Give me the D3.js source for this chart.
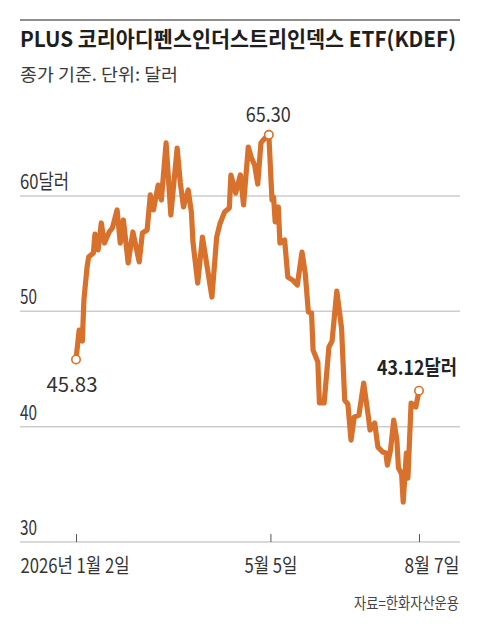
<!DOCTYPE html>
<html><head><meta charset="utf-8">
<script src="https://cdn.jsdelivr.net/npm/d3@7"></script>
<style>
html,body{margin:0;padding:0;background:#fff;}
svg{display:block;}
text{font-family:"Noto Sans CJK KR","Noto Sans",sans-serif;}
</style></head>
<body>
<svg id="c" width="480" height="630"></svg>
<script>
// ---- data (closing price, USD) ----
const dates = ["2026-01-02","2026-01-04","2026-01-06","2026-01-07","2026-01-09","2026-01-10","2026-01-13","2026-01-14","2026-01-16","2026-01-18",
"2026-01-20","2026-01-23","2026-01-25","2026-01-28","2026-01-30","2026-02-01","2026-02-04","2026-02-07","2026-02-11","2026-02-13",
"2026-02-16","2026-02-18","2026-02-20","2026-02-23","2026-02-25","2026-02-28","2026-03-03","2026-03-07","2026-03-09","2026-03-11",
"2026-03-14","2026-03-16","2026-03-17","2026-03-20","2026-03-23","2026-03-26","2026-03-29","2026-04-01","2026-04-03","2026-04-06",
"2026-04-09","2026-04-10","2026-04-13","2026-04-16","2026-04-18","2026-04-21","2026-04-23","2026-04-25","2026-04-27","2026-04-29",
"2026-05-01","2026-05-04","2026-05-06","2026-05-07","2026-05-08","2026-05-10","2026-05-11","2026-05-14","2026-05-16","2026-05-19",
"2026-05-22","2026-05-25","2026-05-27","2026-05-29","2026-05-31","2026-06-01","2026-06-04","2026-06-05","2026-06-08","2026-06-11",
"2026-06-13","2026-06-16","2026-06-19","2026-06-21","2026-06-23","2026-06-25","2026-06-27","2026-06-30","2026-07-03","2026-07-06",
"2026-07-07","2026-07-10","2026-07-12","2026-07-15","2026-07-17","2026-07-18","2026-07-20","2026-07-22","2026-07-24","2026-07-25",
"2026-07-27","2026-07-28","2026-07-30","2026-07-31","2026-08-02","2026-08-05","2026-08-07"];
const values = [45.83,48.38,47.42,50.98,53.84,54.71,55.06,56.70,55.32,57.66,
55.92,56.88,57.22,58.79,55.92,57.92,54.19,56.88,54.28,56.79,
57.05,60.09,58.79,60.95,59.65,64.60,58.35,64.16,61.13,59.05,
60.52,58.61,56.01,52.45,56.44,53.84,51.24,56.44,57.57,58.61,
58.96,61.82,60.26,61.82,59.22,64.25,63.30,62.69,61.04,64.60,
64.94,65.30,59.65,59.91,57.75,59.05,55.92,56.18,52.97,52.71,
52.28,55.14,53.32,49.94,49.85,46.64,45.60,42.05,42.05,46.90,
47.42,51.76,48.55,42.31,41.96,38.84,40.83,41.01,43.78,40.83,
39.71,40.31,38.23,37.80,37.71,36.67,37.97,40.57,38.84,36.41,
35.89,33.46,37.71,35.54,42.05,41.70,43.12];
const yTicks = [30,40,50,60];
const yTickLabels = ["30","40","50","60달러"];
const xTickDates = ["2026-01-02","2026-05-05","2026-08-07"];
const xTickLabels = ["2026년 1월 2일","5월 5일","8월 7일"];
const title = "PLUS 코리아디펜스인더스트리인덱스 ETF(KDEF)";
const subtitle = "종가 기준. 단위: 달러";
const source = "자료=한화자산운용";
const markIdx = [0, 51, values.length-1];
const markLabels = ["45.83","65.30","43.12달러"];

// ---- drawing ----
const parse = d3.utcParse("%Y-%m-%d");
const data = dates.map((d,i)=>({date:parse(d), value:values[i]}));
const svg = d3.select("#c");
const left = 20, right = 460;
const x = d3.scaleUtc().domain([parse(xTickDates[0]), parse(xTickDates[2])]).range([76, 419]);
const y = d3.scaleLinear().domain([30,60]).range([542,196]);
const orange = "#d8712c";

function fit(sel, w){ sel.attr("textLength", w).attr("lengthAdjust","spacingAndGlyphs"); return sel; }

// top rule
svg.append("line").attr("x1",left).attr("x2",right).attr("y1",20).attr("y2",20)
  .attr("stroke","#8e8e8e").attr("stroke-width",2);
fit(svg.append("text").attr("x",left).attr("y",47).attr("font-size",21.5).attr("font-weight",700)
  .attr("fill","#1e1e1e").text(title), 436);
fit(svg.append("text").attr("x",left).attr("y",81).attr("font-size",17.5)
  .attr("fill","#3a3a3a").text(subtitle), 158);

// gridlines + y labels
const yLabelW = [17,17,17,49];
yTicks.forEach((t,i)=>{
  svg.append("line").attr("x1",left).attr("x2",right).attr("y1",y(t)).attr("y2",y(t))
    .attr("stroke","#cdcdcd").attr("stroke-width",1.5);
  fit(svg.append("text").attr("x",left).attr("y",y(t)-7).attr("font-size",20)
    .attr("fill","#333").text(yTickLabels[i]), yLabelW[i]);
});

// x axis ticks
const xAxis = d3.axisBottom(x).tickValues(xTickDates.map(parse))
  .tickSizeInner(-8).tickSizeOuter(0).tickPadding(17).tickFormat((d,i)=>xTickLabels[i]);
const gx = svg.append("g").attr("transform",`translate(0,${y(30)})`).call(xAxis);
gx.select(".domain").remove();
gx.selectAll(".tick line").attr("stroke","#555").attr("stroke-width",1);
const xLabW = [109,53,55];
gx.selectAll(".tick text").attr("font-size",20).attr("fill","#333")
  .attr("font-family",'"Noto Sans CJK KR",sans-serif').attr("dy","0.71em")
  .each(function(d,i){
    const t = d3.select(this);
    if(i===0){ t.attr("text-anchor","start").attr("x", left - x(d)); }
    else if(i===2){ t.attr("text-anchor","end").attr("x", right - 1 - x(d)); }
    fit(t, xLabW[i]);
  });

// line
const line = d3.line().x(d=>x(d.date)).y(d=>y(d.value));
svg.append("path").datum(data).attr("d",line).attr("fill","none")
  .attr("stroke",orange).attr("stroke-width",5.2).attr("stroke-linejoin","round").attr("stroke-linecap","round");

// markers
markIdx.forEach(i=>{
  svg.append("circle").attr("cx",x(data[i].date)).attr("cy",y(data[i].value)).attr("r",4.2)
    .attr("fill","#fff").attr("stroke",orange).attr("stroke-width",1.6);
});
fit(svg.append("text").attr("x",x(data[0].date)-4).attr("y",y(data[0].value)+33).attr("text-anchor","middle")
  .attr("font-size",20).attr("fill","#333").text(markLabels[0]), 51);
fit(svg.append("text").attr("x",x(data[51].date)-0.5).attr("y",y(data[51].value)-13).attr("text-anchor","middle")
  .attr("font-size",20).attr("fill","#333").text(markLabels[1]), 45);
fit(svg.append("text").attr("x",right-3).attr("y",y(values[values.length-1])-16).attr("text-anchor","end")
  .attr("font-size",20).attr("font-weight",700).attr("fill","#222").text(markLabels[2]), 80);

// source
fit(svg.append("text").attr("x",right-1).attr("y",609).attr("text-anchor","end")
  .attr("font-size",15.5).attr("fill","#444").text(source), 105);
</script>
</body></html>
